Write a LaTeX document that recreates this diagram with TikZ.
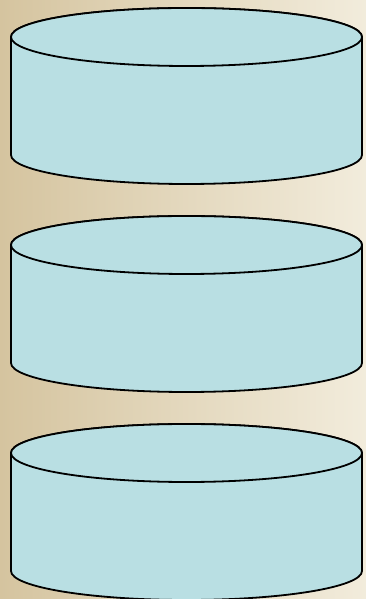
\documentclass[tikz,border=0pt]{standalone}
\usepackage{xcolor}
\usepackage{tikz}
\definecolor{bgleft}{HTML}{D5C49F}
\definecolor{bgright}{HTML}{F2ECDC}
\definecolor{drumfill}{HTML}{B9DFE3}
\tikzset{
    drum/.style={
        fill=drumfill,
        draw=black,
        line width=1.8pt,
        line join=round
    }
}

\begin{document}
\begin{tikzpicture}[x=1pt, y=1pt]
    % background
    \shade[left color=bgleft, right color=bgright] (0,0) rectangle (366,599);
    \useasboundingbox (0,0) rectangle (366,599);

    % three cylinders, top to bottom
    \foreach \name/\ytop in {top/562, mid/354, low/146} {
        \coordinate (\name-t) at (186.5,\ytop);
        \coordinate (\name-b) at (186.5,\ytop-118);
        \draw[drum] ([xshift=-175.5pt]\name-t) -- ([xshift=-175.5pt]\name-b)
            arc (180:360:175.5 and 29) -- ([xshift=175.5pt]\name-t)
            arc (0:180:175.5 and 29) -- cycle;
        \draw[drum] (\name-t) ellipse (175.5 and 29);
    }
\end{tikzpicture}
\end{document}
